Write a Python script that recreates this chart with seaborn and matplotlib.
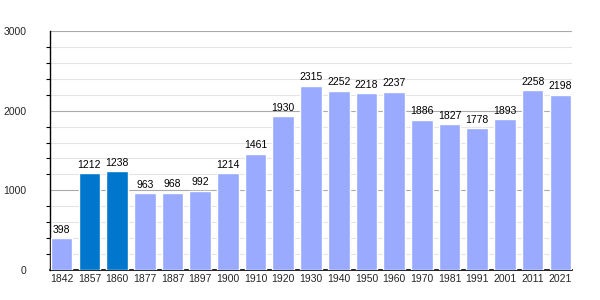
import matplotlib
matplotlib.use("Agg")
import matplotlib.pyplot as plt
import seaborn as sns
import pandas as pd
from matplotlib.ticker import MultipleLocator

years = ["1842", "1857", "1860", "1877", "1887", "1897", "1900", "1910", "1920", "1930",
         "1940", "1950", "1960", "1970", "1981", "1991", "2001", "2011", "2021"]
population = [398, 1212, 1238, 963, 968, 992, 1214, 1461, 1930, 2315,
              2252, 2218, 2237, 1886, 1827, 1778, 1893, 2258, 2198]
highlighted = ["1857", "1860"]

df = pd.DataFrame({"year": years, "pop": population})
light = "#99aaff"
dark = "#0077cc"
palette = {y: (dark if y in highlighted else light) for y in years}

sns.set_style("white")
plt.rcParams["font.family"] = ["Liberation Sans", "DejaVu Sans"]

fig = plt.figure(figsize=(6, 3), dpi=100)
ax = fig.add_axes([50/600, 30/300, 522/600, 239/300])

sns.barplot(data=df, x="year", y="pop", hue="year", palette=palette, legend=False,
            width=0.78, ax=ax, saturation=1, zorder=3)

ax.set_ylim(0, 3000)
ax.set_xlim(-0.42, len(years) - 0.58)
ax.yaxis.set_major_locator(MultipleLocator(1000))
ax.yaxis.set_minor_locator(MultipleLocator(200))
ax.grid(which="major", axis="y", color="#aaaaaa", linewidth=0.8, zorder=0)
ax.grid(which="minor", axis="y", color="#e4e4e4", linewidth=0.8, zorder=0)
ax.set_axisbelow(True)

for s in ["top", "right"]:
    ax.spines[s].set_visible(False)
ax.spines["left"].set_color("black")
ax.spines["bottom"].set_color("black")
ax.spines["left"].set_linewidth(1)
ax.spines["bottom"].set_linewidth(1.2)

ax.tick_params(axis="y", which="major", length=5, width=0.8, color="black", labelsize=7.5, pad=12)
ax.tick_params(axis="y", which="minor", length=3, width=0.8, color="black", left=True)
ax.tick_params(axis="x", length=0, labelsize=7.5, pad=3)
ax.set_xlabel("")
ax.set_ylabel("")

for i, v in enumerate(population):
    ax.text(i, v + 45, str(v), ha="center", va="bottom", fontsize=7.5, color="black", zorder=4)

fig.savefig("out.png", dpi=100)
